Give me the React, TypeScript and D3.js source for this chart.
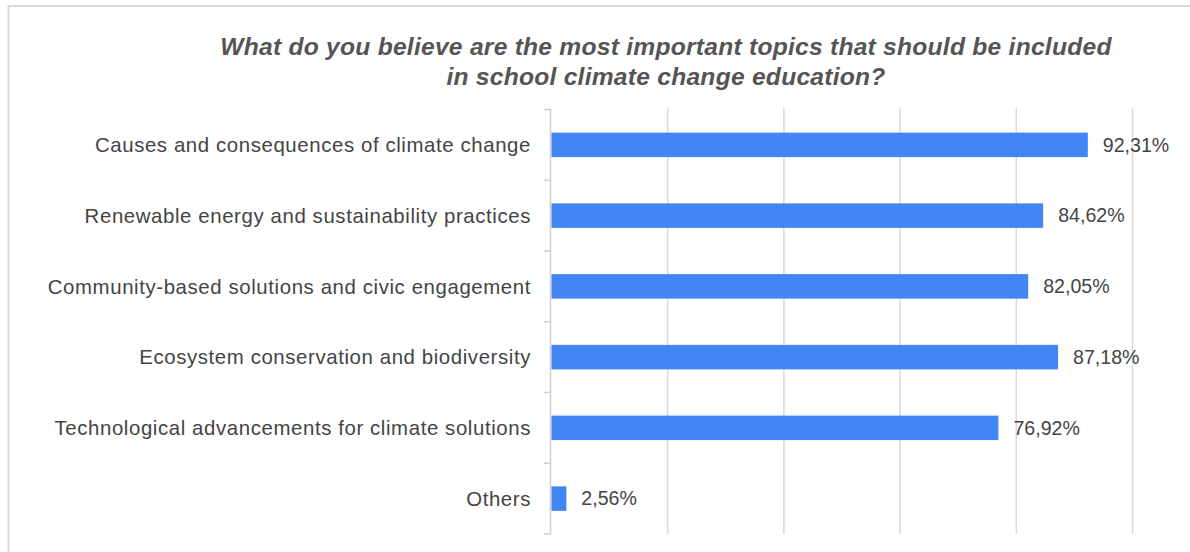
import React from "react";
import * as d3 from "d3";

const categories = [
  "Causes and consequences of climate change",
  "Renewable energy and sustainability practices",
  "Community-based solutions and civic engagement",
  "Ecosystem conservation and biodiversity",
  "Technological advancements for climate solutions",
  "Others",
];
const values = [92.31, 84.62, 82.05, 87.18, 76.92, 2.56];
const gridTicks = [20, 40, 60, 80, 100];
const titleLines = [
  "What do you believe are the most important topics that should be included",
  "in school climate change education?",
];

const W = 1190;
const H = 552;
const FONT = "'Liberation Sans', Arial, sans-serif";

export default function App() {
  const x = d3.scaleLinear().domain([0, 100]).range([551.5, 1132.5]);
  const y = d3
    .scaleBand<string>()
    .domain(categories)
    .range([109.5, 534])
    .paddingInner(0.654)
    .paddingOuter(0.327);
  const step = y.step();
  const top = 109.5;
  const bottom = 534;
  const fmt = (v: number) => v.toFixed(2).replace(".", ",") + "%";

  return (
    <svg
      width={W}
      height={H}
      style={{ position: "absolute", left: 0, top: 0, background: "#fff" }}
      fontFamily={FONT}
    >
      <rect x={0} y={0} width={W} height={H} fill="#fff" />
      <rect x={8.5} y={6} width={1400} height={700} fill="none" stroke="#d9d9d9" strokeWidth={2} />
      {titleLines.map((t, i) => (
        <text
          key={i}
          x={666}
          y={55 + i * 30}
          textAnchor="middle"
          fontSize={24.6}
          fontWeight="bold"
          fontStyle="italic"
          fill="#555"
          letterSpacing={0.25}
        >
          {t}
        </text>
      ))}
      {gridTicks.map((t) => (
        <line
          key={t}
          x1={x(t)}
          x2={x(t)}
          y1={top - 1}
          y2={bottom}
          stroke="#d9d9d9"
          strokeWidth={1.5}
        />
      ))}
      <line x1={550.5} x2={550.5} y1={top - 1} y2={bottom} stroke="#cfcfcf" strokeWidth={1.5} />
      {d3.range(categories.length + 1).map((k) => (
        <line
          key={k}
          x1={544}
          x2={550.5}
          y1={top + k * step}
          y2={top + k * step}
          stroke="#cfcfcf"
          strokeWidth={1.5}
        />
      ))}
      {categories.map((c, i) => {
        const yy = y(c)!;
        const bw = y.bandwidth();
        return (
          <g key={c}>
            <rect x={x(0)} y={yy} width={x(values[i]) - x(0)} height={bw} fill="#4285f4" />
            <text
              x={531}
              y={yy + bw / 2}
              dy="0.35em"
              textAnchor="end"
              fontSize={20.4}
              fill="#444"
              letterSpacing={0.6}
            >
              {c}
            </text>
            <text
              x={x(values[i]) + 15}
              y={yy + bw / 2}
              dy="0.35em"
              fontSize={19.6}
              fill="#444"
            >
              {fmt(values[i])}
            </text>
          </g>
        );
      })}
    </svg>
  );
}
